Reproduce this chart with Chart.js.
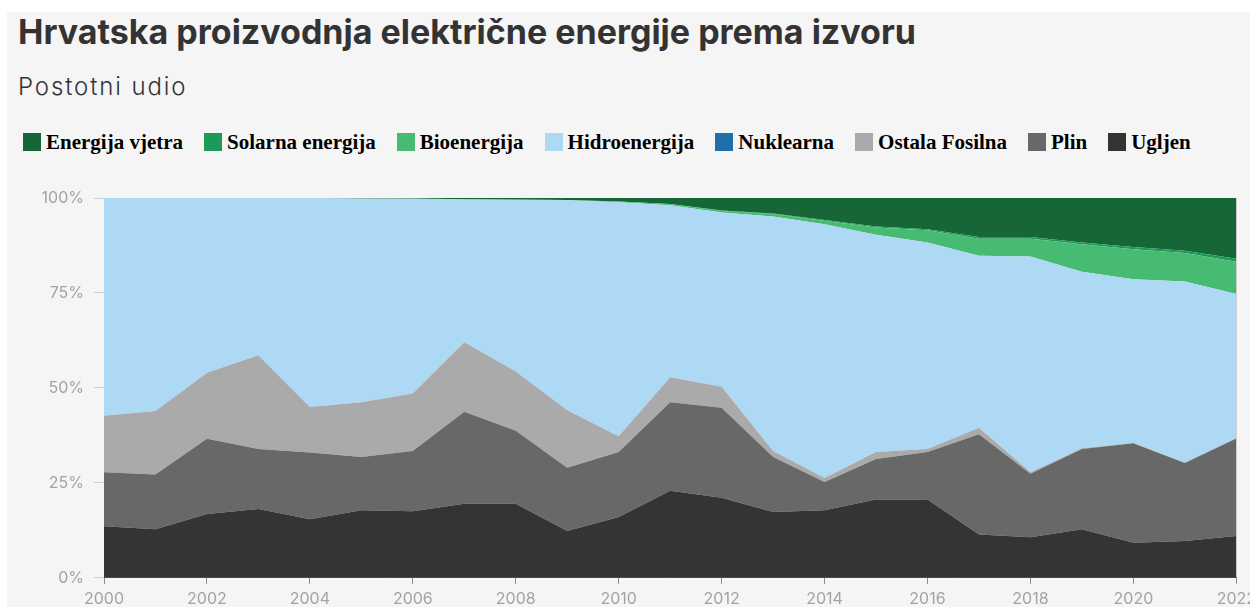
<!DOCTYPE html>
<html>
<head>
<meta charset="utf-8">
<script src="https://cdn.jsdelivr.net/npm/chart.js@4.4.0/dist/chart.umd.min.js"></script>
<style>
  html, body { margin: 0; padding: 0; background: #ffffff; width: 1250px; height: 607px; overflow: hidden; }
  #panel { position: absolute; left: 7px; top: 12px; width: 1243px; height: 595px; background: #f5f5f5; }
  #title { position: absolute; left: 18px; top: 11px; font-family: Inter, "Open Sans", sans-serif; font-weight: 700; font-size: 34px; color: #333333; white-space: nowrap; }
  #subtitle { position: absolute; left: 18px; top: 72px; font-family: Inter, "Open Sans", sans-serif; font-weight: 300; font-size: 24px; letter-spacing: 1.9px; color: #333333; white-space: nowrap; }
  #legend { position: absolute; left: 23px; top: 131px; display: flex; gap: 21px; align-items: center; white-space: nowrap; }
  .li { display: flex; align-items: center; font-family: "Liberation Serif", "Times New Roman", serif; font-weight: 700; font-size: 21px; color: #000; line-height: 22px; }
  .sw { width: 18px; height: 18px; margin-right: 5px; }
  #wrap { position: absolute; left: 0; top: 170px; width: 1262px; height: 445px; }
</style>
</head>
<body>
<div id="panel"></div>
<div id="title">Hrvatska proizvodnja električne energije prema izvoru</div>
<div id="subtitle">Postotni udio</div>
<div id="legend"></div>
<div id="wrap"><canvas id="c"></canvas></div>
<script>
const years = ["2000","2001","2002","2003","2004","2005","2006","2007","2008","2009","2010","2011","2012","2013","2014","2015","2016","2017","2018","2019","2020","2021","2022"];
const yTicks = [0, 25, 50, 75, 100];

const ugljen    = [13.6,12.8,16.8,18.1,15.4,17.8,17.5,19.5,19.5,12.3,16.0,22.9,21.1,17.3,17.8,20.6,20.6,11.4,10.7,12.8, 9.2, 9.7,11.0];
const plin      = [14.2,14.4,19.8,15.8,17.6,14.0,15.9,24.2,19.2,16.7,17.1,23.3,23.7,14.5, 7.4,10.7,12.5,26.4,16.7,21.1,26.2,20.5,25.7];
const ostala    = [14.9,16.7,17.4,24.7,12.0,14.4,15.1,18.3,15.6,15.1, 4.2, 6.6, 5.5, 1.6, 1.1, 1.8, 0.8, 1.7, 0.4, 0.2, 0.1, 0.1, 0.1];
const nuklearna = [0,0,0,0,0,0,0,0,0,0,0,0,0,0,0,0,0,0,0,0,0,0,0];
const hidro     = [57.3,56.1,46.0,41.4,55.0,53.7,51.3,37.6,45.2,55.3,61.6,45.3,45.9,61.7,66.8,57.2,54.4,45.3,56.8,46.5,43.1,47.7,37.9];
const bio       = [0,0,0,0,0,0,0.05,0.1,0.1,0.1,0.2,0.3,0.4,0.7,0.9,1.9,3.2,4.5,4.7,7.2,7.9,7.5,8.5];
const solar     = [0,0,0,0,0,0,0,0,0,0,0,0,0.1,0.1,0.2,0.3,0.3,0.4,0.4,0.5,0.6,0.6,0.8];
const vjetar    = [0,0,0,0,0,0.1,0.2,0.3,0.4,0.5,0.9,1.6,3.3,4.1,5.8,7.5,8.2,10.3,10.3,11.7,12.9,13.9,16.0];

// bottom-to-top stacking order
const series = [
  { label: "Ugljen",            data: ugljen,    color: "#343433" },
  { label: "Plin",              data: plin,      color: "#686868" },
  { label: "Ostala Fosilna",    data: ostala,    color: "#a9aaa9" },
  { label: "Nuklearna",         data: nuklearna, color: "#1f6fad" },
  { label: "Hidroenergija",     data: hidro,     color: "#aed9f4" },
  { label: "Bioenergija",       data: bio,       color: "#48bb72" },
  { label: "Solarna energija",  data: solar,     color: "#1e9a58" },
  { label: "Energija vjetra",   data: vjetar,    color: "#166638" }
];

// HTML legend (top-to-bottom order)
const leg = document.getElementById('legend');
series.slice().reverse().forEach(s => {
  const d = document.createElement('div'); d.className = 'li';
  const sw = document.createElement('span'); sw.className = 'sw'; sw.style.background = s.color;
  const t = document.createElement('span'); t.textContent = s.label;
  d.appendChild(sw); d.appendChild(t); leg.appendChild(d);
});

const datasets = series.map((s, i) => ({
  label: s.label,
  data: s.data,
  backgroundColor: s.color,
  borderColor: s.color,
  borderWidth: 0,
  pointRadius: 0,
  pointHoverRadius: 0,
  tension: 0,
  fill: i === 0 ? 'origin' : '-1'
}));

new Chart(document.getElementById('c'), {
  type: 'line',
  data: { labels: years, datasets },
  options: {
    responsive: true,
    maintainAspectRatio: false,
    animation: false,
    layout: { padding: { top: 28, right: 25, left: 0, bottom: 0 } },
    plugins: { legend: { display: false }, tooltip: { enabled: false } },
    elements: { line: { borderWidth: 0 } },
    scales: {
      x: {
        offset: false,
        grid: {
          display: true,
          drawOnChartArea: true,
          color: '#cfcfcf',
          tickLength: 6,
          tickColor: ctx => (ctx.index % 2 === 0 ? '#8a8a8a' : 'rgba(0,0,0,0)')
        },
        border: { display: true, color: '#5a5a5a', width: 1 },
        ticks: {
          autoSkip: false,
          maxRotation: 0,
          padding: 6,
          color: '#a3a3a3',
          font: { family: 'Inter', size: 16 },
          callback: (v, i) => (i % 2 === 0 ? years[i] : '')
        }
      },
      y: {
        stacked: true,
        min: 0,
        max: 100,
        afterBuildTicks: s => { s.ticks = yTicks.map(v => ({ value: v })); },
        afterFit: s => { s.width = 104; },
        grid: { display: true, color: '#cfcfcf', tickLength: 10, tickColor: '#cfcfcf' },
        border: { display: false },
        ticks: {
          padding: 10,
          color: '#a3a3a3',
          font: { family: 'Inter', size: 16 },
          callback: v => v + '%'
        }
      }
    }
  }
});
</script>
</body>
</html>
